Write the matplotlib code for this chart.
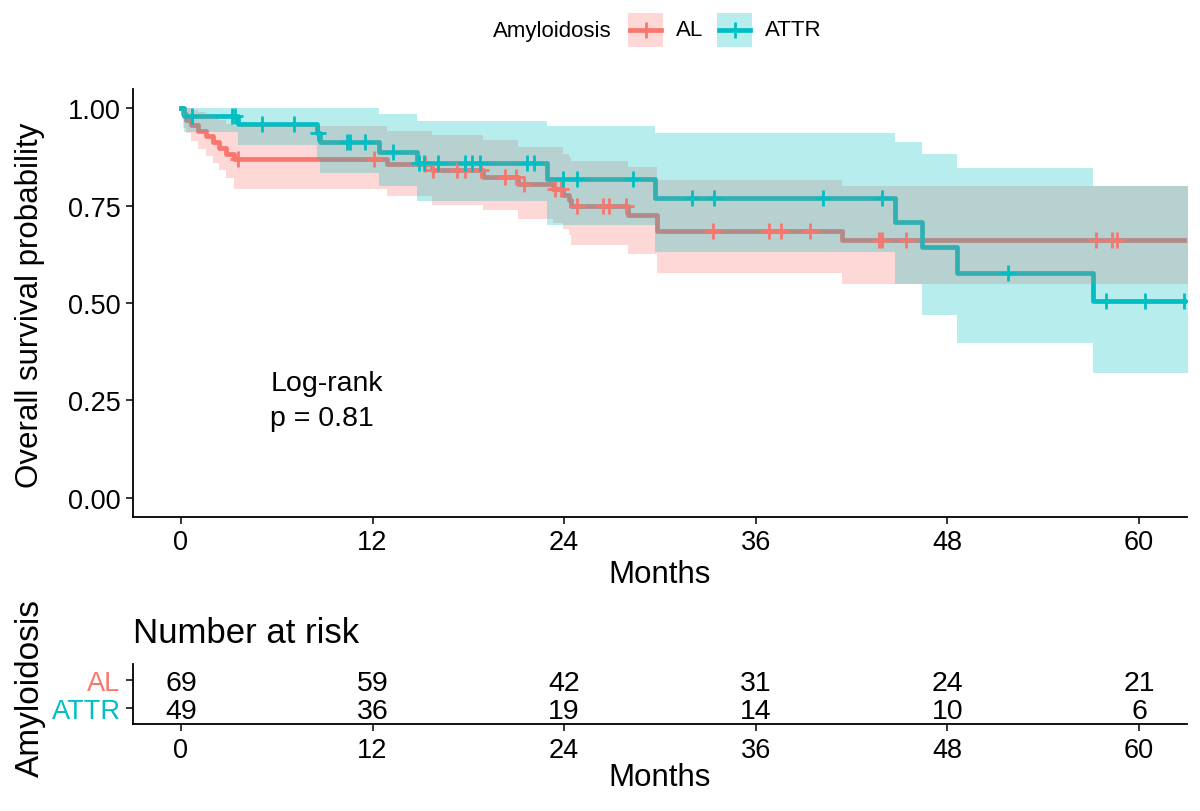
import matplotlib
matplotlib.use("Agg")
import matplotlib.pyplot as plt
from matplotlib.patches import Rectangle
import numpy as np

plt.rcParams["font.family"] = ["Liberation Sans", "DejaVu Sans"]

AL_COLOR = "#F8766D"
ATTR_COLOR = "#00BFC4"

# Kaplan-Meier steps: months, survival, 95% CI
al_time = [0, 0.15, 0.35, 0.63, 1.04, 1.56, 1.98, 2.40, 2.81, 3.33, 12.9, 15.7,
           18.9, 21.1, 23.3, 23.9, 24.3, 24.4, 28.0, 29.8, 41.4]
al_surv = [1.0, 0.986, 0.971, 0.957, 0.942, 0.928, 0.913, 0.899, 0.884, 0.870,
           0.856, 0.841, 0.825, 0.807, 0.793, 0.778, 0.764, 0.750, 0.725, 0.686, 0.661]
al_lower = [1.0, 0.949, 0.936, 0.916, 0.897, 0.878, 0.860, 0.841, 0.820, 0.794,
            0.776, 0.752, 0.738, 0.717, 0.705, 0.690, 0.675, 0.648, 0.625, 0.576, 0.548]
al_upper = [1.0, 1.0, 1.0, 0.995, 0.990, 0.980, 0.975, 0.970, 0.960, 0.954,
            0.941, 0.931, 0.918, 0.902, 0.900, 0.884, 0.875, 0.864, 0.850, 0.815, 0.800]
al_censor = [3.6, 12.1, 15.3, 15.8, 17.3, 17.8, 18.8, 20.3, 21.0, 21.5, 23.4, 23.8,
             24.8, 26.4, 26.8, 27.9, 33.3, 36.8, 37.6, 39.4, 43.7, 43.9, 45.4,
             57.3, 58.3, 58.6]
al_last = 66.0

attr_time = [0, 0.2, 3.6, 8.5, 8.7, 12.4, 14.8, 22.9, 29.7, 44.7, 46.4, 48.6, 57.1]
attr_surv = [1.0, 0.980, 0.959, 0.938, 0.915, 0.889, 0.861, 0.818, 0.771, 0.709,
             0.645, 0.578, 0.506]
attr_lower = [1.0, 0.940, 0.905, 0.870, 0.833, 0.800, 0.761, 0.700, 0.632, 0.548,
              0.468, 0.398, 0.321]
attr_upper = [1.0, 1.0, 1.0, 1.0, 1.0, 0.987, 0.969, 0.956, 0.938, 0.915,
              0.884, 0.846, 0.800]
attr_censor = [0.7, 3.2, 3.4, 5.1, 7.1, 8.6, 10.4, 10.6, 11.5, 13.3, 14.9, 15.2,
               16.1, 17.8, 18.2, 18.7, 21.7, 22.1, 23.9, 24.8, 28.3, 32.0, 33.4,
               40.2, 43.9, 51.8, 57.9, 60.4, 62.8]
attr_last = 66.0

# number at risk table
risk_times = [0, 12, 24, 36, 48, 60]
al_risk = [69, 59, 42, 31, 24, 21]
attr_risk = [49, 36, 19, 14, 10, 6]

W, H = 1200, 812


def px_rect(x0, y0, x1, y1):
    return [x0 / W, 1 - y1 / H, (x1 - x0) / W, (y1 - y0) / H]


def style_axes(a):
    for side in ("top", "right"):
        a.spines[side].set_visible(False)
    for side in ("left", "bottom"):
        a.spines[side].set_linewidth(1.3)
        a.spines[side].set_color("black")
    a.tick_params(length=5, width=1.1, color="black", labelsize=19.5, pad=4)


fig = plt.figure(figsize=(12, 8.12), dpi=100)
ax = fig.add_axes(px_rect(133, 90, 1187, 518))
axr = fig.add_axes(px_rect(133, 665, 1187, 725))
ov = fig.add_axes([0, 0, 1, 1])
ov.set_xlim(0, W)
ov.set_ylim(H, 0)
ov.axis("off")

groups = [
    (al_time, al_surv, al_lower, al_upper, al_censor, al_last, AL_COLOR),
    (attr_time, attr_surv, attr_lower, attr_upper, attr_censor, attr_last, ATTR_COLOR),
]

prepared = []
for t, s, lo, hi, cens, last, col in groups:
    tt = np.append(t, last)
    ss = np.append(s, s[-1])
    ll = np.append(lo, lo[-1])
    uu = np.append(hi, hi[-1])
    prepared.append((tt, ss, ll, uu, np.asarray(cens), col))

# lines first, the ribbons sit on top of them (as in survminer)
for tt, ss, ll, uu, cens, col in prepared:
    ax.step(tt, ss, where="post", color=col, lw=3.4, zorder=2)
for tt, ss, ll, uu, cens, col in prepared:
    ax.fill_between(tt, ll, uu, step="post", color=col, alpha=0.28, lw=0, zorder=3)
for tt, ss, ll, uu, cens, col in prepared:
    idx = np.searchsorted(tt, cens, side="right") - 1
    ax.plot(cens, ss[idx], ls="none", marker="+", ms=12, mew=2, color=col, zorder=4)

ax.set_xlim(-3, 63)
ax.set_ylim(-0.05, 1.05)
ax.set_xticks(risk_times)
ax.set_yticks([0, 0.25, 0.5, 0.75, 1.0])
ax.set_yticklabels(["0.00", "0.25", "0.50", "0.75", "1.00"])
style_axes(ax)

ax.text(5.6, 0.25, "Log-rank\np = 0.81", fontsize=20.5, ha="left", va="center",
        linespacing=1.45)

# risk table
axr.set_xlim(-3, 63)
axr.set_ylim(0.4, 2.6)
for t, n1, n2 in zip(risk_times, al_risk, attr_risk):
    axr.text(t, 2, str(n1), fontsize=20.5, ha="center", va="center_baseline")
    axr.text(t, 1, str(n2), fontsize=20.5, ha="center", va="center_baseline")
axr.set_xticks(risk_times)
axr.set_yticks([1, 2])
axr.set_yticklabels(["ATTR", "AL"])
style_axes(axr)
for lab, col in zip(axr.get_yticklabels(), [ATTR_COLOR, AL_COLOR]):
    lab.set_color(col)

# free text placed in pixel coordinates
ov.text(30, 305, "Overall survival probability", fontsize=22.5, rotation=90,
        ha="center", va="center")
ov.text(660, 575, "Months", fontsize=22.5, ha="center", va="center")
ov.text(133, 634, "Number at risk", fontsize=25, ha="left", va="center")
ov.text(30, 688, "Amyloidosis", fontsize=24, rotation=90, ha="center", va="center")
ov.text(660, 778, "Months", fontsize=22.5, ha="center", va="center")

# legend
ov.text(493, 31, "Amyloidosis", fontsize=16, ha="left", va="center")
for x0, label, col in [(628, "AL", AL_COLOR), (717, "ATTR", ATTR_COLOR)]:
    ov.add_patch(Rectangle((x0, 14), 35, 34, facecolor=col, alpha=0.28, lw=0))
    ov.plot([x0 + 2, x0 + 33], [31, 31], color=col, lw=3.4)
    ov.plot([x0 + 17.5], [31], marker="+", ms=12, mew=2, color=col)
    ov.text(x0 + 48, 31, label, fontsize=16, ha="left", va="center")

fig.savefig("out.png", dpi=100, facecolor="white")
